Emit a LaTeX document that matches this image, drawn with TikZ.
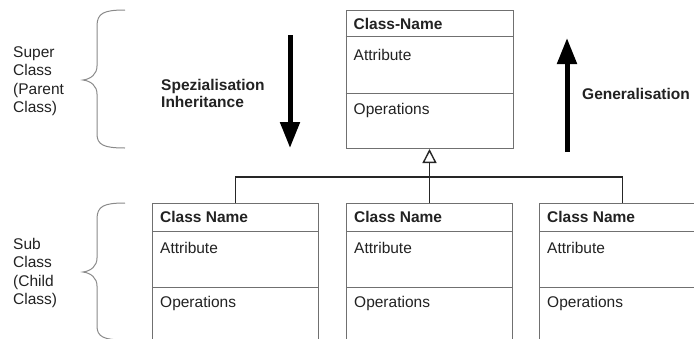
\documentclass[tikz,border=0pt]{standalone}
\usepackage{fontspec}
\setmainfont{Liberation Sans}
\usetikzlibrary{arrows.meta}
\definecolor{boxgray}{HTML}{707070}
\definecolor{bracegray}{HTML}{8A8A8A}
\definecolor{txt}{HTML}{222222}
\tikzset{
  cls/.style={draw=boxgray, line width=1pt, minimum width=166pt, minimum height=150pt, anchor=north west, inner sep=0pt},
  divider/.style={draw=boxgray, line width=1pt},
  hdr/.style={font=\fontsize{15.5}{18}\selectfont\bfseries, text=txt, inner sep=0pt, anchor=west},
  lbl/.style={font=\fontsize{15.5}{18}\selectfont, text=txt, inner sep=0pt, anchor=west},
  side/.style={font=\fontsize{15.5}{18.5}\selectfont, text=txt, inner sep=0pt, anchor=west, align=left},
  boldside/.style={font=\fontsize{15.5}{17}\selectfont\bfseries, text=txt, inner sep=0pt, anchor=west, align=left},
  conn/.style={draw=black!85, line width=1.6pt},
  bigarrow/.style={draw=black, line width=5pt, -{Triangle[length=26pt,width=19pt]}},
  bracepath/.style={draw=bracegray, line width=1pt}
}
\begin{document}
\begin{tikzpicture}[x=1pt,y=-1pt]
\useasboundingbox (0,0) rectangle (694,338);
\clip (0,0) rectangle (694,338);
\fill[white] (0,0) rectangle (694,338);

% super class box
\node[cls, minimum height=138pt, minimum width=167pt] (super) at (345.5,10) {};
\draw[divider] ([yshift=-26pt]super.north west) -- ([yshift=-26pt]super.north east);
\draw[divider] ([yshift=-83pt]super.north west) -- ([yshift=-83pt]super.north east);
\node[hdr] (superh) at ([xshift=8pt,yshift=-14pt]super.north west) {Class-Name};
\node[lbl] (supera) at ([xshift=8pt,yshift=-45pt]super.north west) {Attribute};
\node[lbl] (supero) at ([xshift=8pt,yshift=-100pt]super.north west) {Operations};

% sub class boxes
\foreach \n/\x in {sub1/152, sub2/346, sub3/539}{
  \node[cls] (\n) at (\x,203) {};
  \draw[divider] ([yshift=-28pt]\n.north west) -- ([yshift=-28pt]\n.north east);
  \draw[divider] ([yshift=-84pt]\n.north west) -- ([yshift=-84pt]\n.north east);
  \node[hdr] (\n h) at ([xshift=8pt,yshift=-14pt]\n.north west) {Class Name};
  \node[lbl] (\n a) at ([xshift=8pt,yshift=-45pt]\n.north west) {Attribute};
  \node[lbl] (\n o) at ([xshift=8pt,yshift=-100pt]\n.north west) {Operations};
}

% inheritance connectors
\draw[conn, -{Triangle[open, length=14pt, width=14pt, line width=1.4pt]}] (sub2.north) -- (super.south);
\draw[conn] (sub1.north) -- ++(0,-26) -| (sub3.north);

% big arrows
\coordinate (spa) at (290,35);
\coordinate (spb) at (290,148);
\draw[bigarrow] (spa) -- (spb);
\coordinate (gea) at (567,152);
\coordinate (geb) at (567,38);
\draw[bigarrow] (gea) -- (geb);

% labels
\node[side] (superlbl) at (13,81) {Super\\Class\\(Parent\\Class)};
\node[side] (sublbl) at (13,273) {Sub\\Class\\(Child\\Class)};
\node[boldside] (spez) at (161,93.5) {Spezialisation\\Inheritance};
\node[boldside] (gen) at (582,94) {Generalisation};

% braces
\draw[bracepath] (125,10) .. controls (104,10) and (97,13) .. (97,26)
  -- (97,66) .. controls (97,74) and (91,79) .. (83,80)
  .. controls (91,81) and (97,86) .. (97,94)
  -- (97,134) .. controls (97,145) and (104,148) .. (125,148);
\draw[bracepath] (125,203) .. controls (104,203) and (97,206) .. (97,219)
  -- (97,258) .. controls (97,266) and (91,271) .. (83,272)
  .. controls (91,273) and (97,278) .. (97,286)
  -- (97,326) .. controls (97,337) and (104,340) .. (125,340);
\end{tikzpicture}
\end{document}
